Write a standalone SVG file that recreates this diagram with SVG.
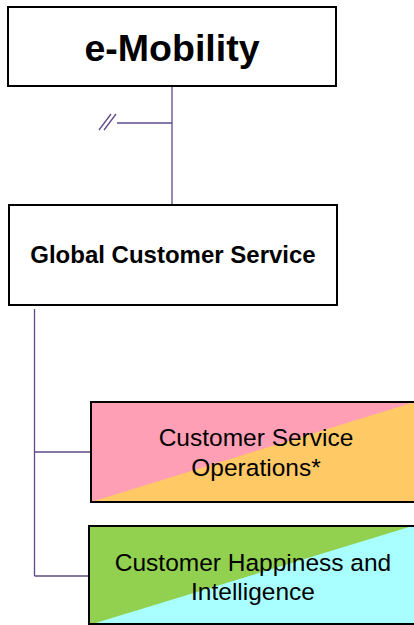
<svg xmlns="http://www.w3.org/2000/svg" width="414" height="625" viewBox="0 0 414 625">
<style>
.box{stroke:#000;stroke-width:2;}
.conn{stroke:#5F4B8B;stroke-width:1.3;fill:none;}
.t{font-family:"Liberation Sans",Arial,sans-serif;fill:#000;text-anchor:middle;}
.n{font-size:24.5px;}
</style>
<rect width="414" height="625" fill="#fff"/>
<g id="connectors">
<path class="conn" d="M172,86 V205"/>
<path class="conn" d="M117,123 H172"/>
<path class="conn" d="M99,130 L111,114 M104,130 L116,114"/>
<path class="conn" d="M34.5,309 V576 M34.5,452 H91 M34.5,576 H89"/>
</g>
<g id="e-mobility">
<rect class="box" x="8" y="7" width="328" height="79" fill="#fff"/>
<text class="t" x="172" y="61" font-size="37.5" font-weight="bold">e-Mobility</text>
</g>
<g id="global-customer-service">
<rect class="box" x="9" y="205" width="328" height="100" fill="#fff"/>
<text class="t" x="173" y="263" font-size="24" font-weight="bold">Global Customer Service</text>
</g>
<g id="customer-service-operations">
<rect x="91" y="402" width="330" height="100" fill="#FF9FB5"/>
<polygon points="91,502 421,400 421,502" fill="#FFC966"/>
<rect class="box" x="91" y="402" width="330" height="100" fill="none"/>
<text class="t n" x="256" y="446">Customer Service</text>
<text class="t n" x="256" y="476">Operations*</text>
</g>
<g id="customer-happiness-intelligence">
<rect x="89" y="526" width="330" height="99" fill="#92D050"/>
<polygon points="89,625 419,524 419,625" fill="#A9FFFF"/>
<rect class="box" x="89" y="526" width="330" height="98" fill="none"/>
<text class="t n" x="253" y="571">Customer Happiness and</text>
<text class="t n" x="253" y="600">Intelligence</text>
</g>
</svg>
